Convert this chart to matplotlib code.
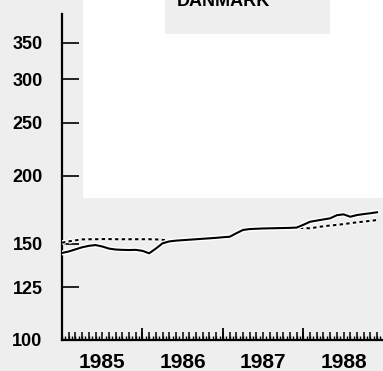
import matplotlib
matplotlib.use('Agg')
import matplotlib.pyplot as plt
import matplotlib.patheffects as pe
from matplotlib.patches import Rectangle
from matplotlib.ticker import FixedLocator, NullFormatter, NullLocator
import numpy as np

# monthly index, Jan 1985 .. Dec 1988
years = [1985, 1986, 1987, 1988]
solid_vals = [144.3, 145.2, 146.5, 147.8, 148.7, 149.2, 148.3, 147.0, 146.4, 146.2, 146.1, 146.2,
              145.6, 144.1, 147.0, 150.3, 151.5, 152.0, 152.3, 152.6, 152.9, 153.2, 153.5, 153.8,
              154.2, 154.5, 156.8, 159.0, 159.6, 159.8, 160.0, 160.1, 160.2, 160.3, 160.4, 160.6,
              162.5, 164.6, 165.4, 166.2, 167.0, 169.2, 169.8, 168.1, 169.3, 170.0, 170.6, 171.3]
dashed_vals = [150.7, 151.5, 152.2, 152.8, 152.9, 152.9, 153.0, 153.0, 152.9, 152.9, 152.9, 152.9,
               152.9, 152.9, 152.8, 152.5, 151.8, 152.1, 152.4, 152.7, 153.0, 153.4, 153.7, 154.0,
               154.3, 154.6, 156.8, 158.9, 159.5, 159.8, 160.0, 160.1, 160.2, 160.3, 160.4, 160.5,
               160.3, 160.1, 160.8, 161.5, 162.0, 162.4, 163.0, 163.6, 164.2, 164.7, 165.2, 165.8]
y_ticks = [100, 125, 150, 200, 250, 300, 350]
title = "DANMARK"

t = np.array([years[0] + m / 12 for m in range(len(solid_vals))])
half_months = np.array([years[0] + m / 24 for m in range(2 * len(solid_vals))])

grey = '#eeeeee'
fig = plt.figure(figsize=(3.83, 3.71), dpi=100, facecolor=grey)
W, H = 383, 371

def fig_rect(x0, y0, x1, y1, color):
    # pixel box (top-left origin) -> figure patch
    fig.patches.append(Rectangle((x0 / W, 1 - y1 / H), (x1 - x0) / W, (y1 - y0) / H,
                                 transform=fig.transFigure, facecolor=color,
                                 edgecolor='none', zorder=0))

fig_rect(83, 0, 383, 198, 'white')
fig_rect(165, 0, 330, 34, grey)

ax = fig.add_axes([62 / W, 1 - 340 / H, (W - 62) / W, (340 - 14) / H])
ax.patch.set_visible(False)

halo = [pe.withStroke(linewidth=3.5, foreground='white')]
ax.plot(t, dashed_vals, color='black', lw=1.5, linestyle=(0, (1.6, 1.6)),
        path_effects=halo, zorder=3)
ax.plot(t, solid_vals, color='black', lw=1.5, path_effects=halo, zorder=4)

ax.set_yscale('log')
ax.set_ylim(100, 395)
ax.set_xlim(1985, 1988.99)

ax.yaxis.set_major_locator(FixedLocator(y_ticks))
ax.yaxis.set_minor_locator(NullLocator())
ax.yaxis.set_minor_formatter(NullFormatter())
ax.set_yticklabels([str(v) for v in y_ticks])

for s in ['top', 'right']:
    ax.spines[s].set_visible(False)
ax.spines['left'].set_linewidth(1.6)
ax.spines['bottom'].set_linewidth(1.6)

ax.tick_params(axis='y', direction='in', length=12, width=1.2, pad=14,
               labelsize=13, left=True)

# year labels in the middle of each year, ticks inside
ax.set_xticks([y + 0.5 for y in years])
ax.set_xticklabels([str(y) for y in years], fontsize=15, fontweight='bold')
ax.tick_params(axis='x', which='major', length=0, pad=9)
ax.set_xticks(half_months, minor=True)
ax.tick_params(axis='x', which='minor', direction='in', length=3, width=1.0)

sec1 = ax.secondary_xaxis('bottom')
sec1.set_xticks(t)
sec1.tick_params(direction='in', length=6, width=1.1, labelbottom=False)
sec1.spines['bottom'].set_visible(False)

sec2 = ax.secondary_xaxis('bottom')
sec2.set_xticks(years[1:])
sec2.tick_params(direction='in', length=9, width=1.3, labelbottom=False)
sec2.spines['bottom'].set_visible(False)

for lab in ax.get_yticklabels():
    lab.set_fontfamily('Liberation Sans')
    lab.set_fontweight('bold')
for lab in ax.get_xticklabels():
    lab.set_fontfamily('Liberation Sans')

fig.text(223 / W, 1 - 6 / H, title, ha='center', va='baseline', fontsize=13,
         fontweight='bold', fontfamily='Liberation Sans')

fig.savefig('out.png', dpi=100, facecolor=grey)
